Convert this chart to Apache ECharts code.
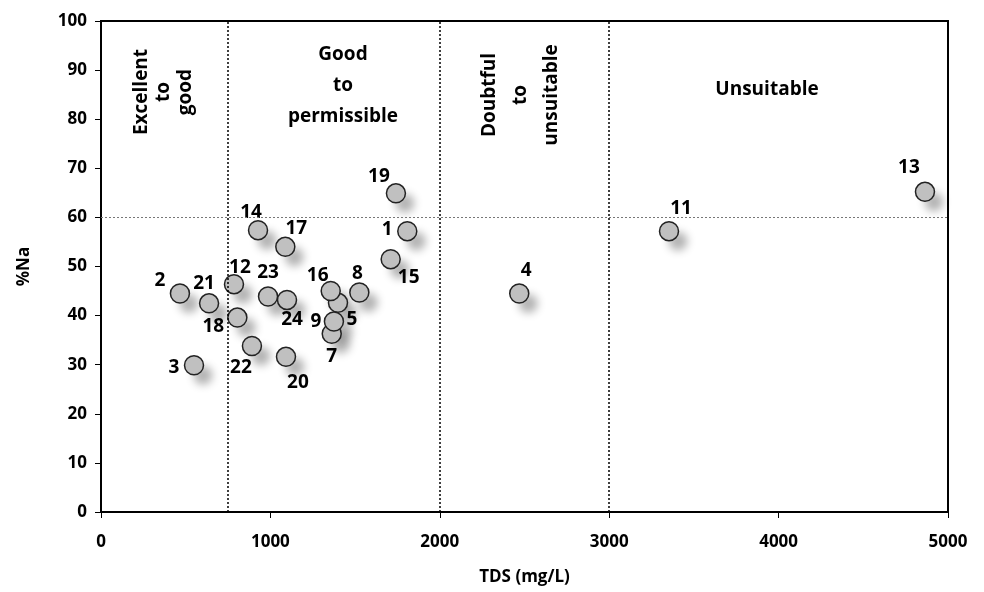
<!DOCTYPE html>
<html>
<head>
<meta charset="utf-8">
<script src="https://cdn.jsdelivr.net/npm/echarts@6/dist/echarts.min.js"></script>
<style>
  html, body { margin: 0; padding: 0; background: #fff; }
  #main { width: 984px; height: 592px; }
</style>
</head>
<body>
<div id="main"></div>
<script>
// sample numbers
let sampleIds = ['1', '2', '3', '4', '5', '7', '8', '9', '11', '12', '13', '14', '15', '16', '17', '18', '19', '20', '21', '22', '23', '24'];
// TDS (mg/L)
let tdsValues = [1808, 466, 549, 2469, 1399, 1362, 1525, 1375, 3353, 785, 4864, 927, 1710, 1356, 1088, 805, 1741, 1092, 638, 891, 986, 1098];
// %Na
let naValues = [57.2, 44.5, 29.9, 44.5, 42.6, 36.3, 44.7, 38.8, 57.2, 46.4, 65.2, 57.4, 51.5, 45.0, 54.0, 39.6, 64.9, 31.6, 42.5, 33.8, 43.9, 43.2];
// class limits
let tdsLimits = [750, 2000, 3000];
let naLimit = 60;

//标签偏移 (label offset per sample, px)
let labelOffset = {
  '1': [-20, -2], '2': [-20, -13], '3': [-20, 2], '4': [7, -23], '5': [14, 17],
  '7': [0, 23], '8': [-2, -19], '9': [-18, 0], '11': [12, -23], '12': [6, -17],
  '13': [-16, -24], '14': [-7, -18], '15': [18, 18], '16': [-13, -15], '17': [11, -18],
  '18': [-24, 9], '19': [-17, -17], '20': [12, 26], '21': [-5, -20], '22': [-11, 22],
  '23': [0, -24], '24': [5, 20]
};

let font = '"Open Sans", Lato, sans-serif';

let points = sampleIds.map((id, i) => ({
  name: id,
  value: [tdsValues[i], naValues[i]],
  label: {
    show: true,
    formatter: id,
    position: 'inside',
    offset: labelOffset[id],
    color: '#000',
    fontWeight: 'bold',
    fontSize: 19,
    fontFamily: font
  }
}));
//阴影层
let shadowPoints = sampleIds.map((id, i) => [tdsValues[i], naValues[i]]);

let vLines = tdsLimits.map(v => ({ xAxis: v }));

//区域文字
function zoneText(text, x, y, rotate, lineHeight) {
  return {
    type: 'text', x: x, y: y, rotation: rotate ? Math.PI / 2 : 0,
    style: {
      text: text, textAlign: 'center', textVerticalAlign: 'middle',
      fill: '#000', font: 'bold 19px ' + font, lineHeight: lineHeight
    }
  };
}

let chart = echarts.init(document.getElementById('main'), null, { renderer: 'canvas' });
let option = {
  backgroundColor: '#ffffff',
  animation: false,
  grid: {
    left: 101, right: 36, top: 21, bottom: 80,
    show: true, borderColor: '#000', borderWidth: 2
  },
  xAxis: {
    type: 'value', min: 0, max: 5000, interval: 1000,
    name: 'TDS (mg/L)', nameLocation: 'middle', nameGap: 57,
    nameTextStyle: { fontSize: 17, fontWeight: 'bold', color: '#000', fontFamily: font },
    axisLine: { lineStyle: { color: '#000', width: 2 } },
    axisTick: { show: true, length: 6, lineStyle: { color: '#000', width: 1 } },
    axisLabel: { fontSize: 17, fontWeight: 'bold', color: '#000', fontFamily: font, margin: 22, formatter: v => String(v) },
    splitLine: { show: false }
  },
  yAxis: {
    type: 'value', min: 0, max: 100, interval: 10,
    name: '%Na', nameLocation: 'middle', nameGap: 68, nameRotate: 90,
    nameTextStyle: { fontSize: 17, fontWeight: 'bold', color: '#000', fontFamily: font },
    axisLine: { show: true, lineStyle: { color: '#000', width: 1.5 } },
    axisTick: { show: true, length: 6, lineStyle: { color: '#000', width: 1 } },
    axisLabel: { fontSize: 17, fontWeight: 'bold', color: '#000', fontFamily: font, margin: 14 },
    splitLine: { show: false }
  },
  series: [{
    type: 'scatter',
    symbol: 'circle',
    symbolSize: 19,
    silent: true,
    itemStyle: {
      color: '#fff',
      opacity: 1,
      shadowColor: 'rgba(0,0,0,0.3)',
      shadowBlur: 8,
      shadowOffsetX: 9,
      shadowOffsetY: 10
    },
    data: shadowPoints,
    markLine: {
      silent: true,
      symbol: 'none',
      label: { show: false },
      lineStyle: { type: [2, 2], color: '#000', width: 1.5 },
      data: vLines.concat([{
        yAxis: naLimit,
        lineStyle: { type: [2, 2], color: '#777', width: 1 }
      }])
    }
  }, {
    type: 'scatter',
    symbol: 'circle',
    symbolSize: 19,
    itemStyle: {
      color: '#c0c0c0',
      opacity: 1,
      borderColor: '#222',
      borderWidth: 1.5
    },
    data: points
  }],
  graphic: [
    zoneText('Excellent\nto\ngood', 164, 92, true, 22),
    zoneText('Good\nto\npermissible', 343, 86, false, 31),
    zoneText('Doubtful\nto\nunsuitable', 521, 95, true, 31),
    zoneText('Unsuitable', 767, 90, false, 20)
  ]
};
chart.setOption(option);
</script>
</body>
</html>
